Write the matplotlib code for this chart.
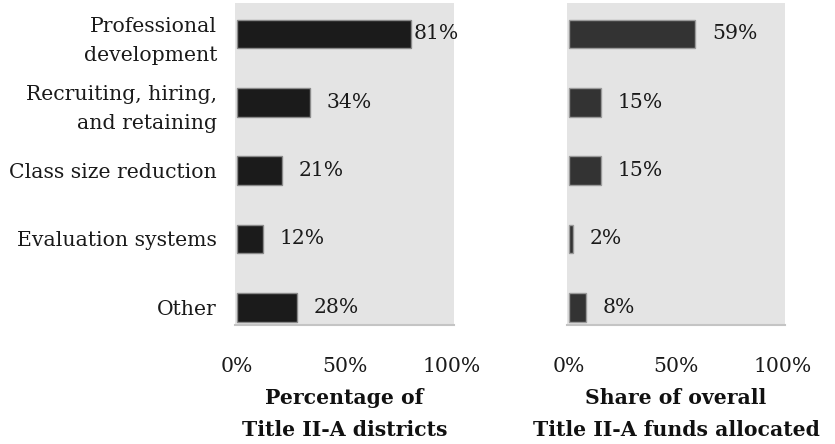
import numpy as np
import matplotlib
matplotlib.use("Agg")
import matplotlib.pyplot as plt

plt.rcParams['font.family'] = ['DejaVu Serif']

# uses of Title II-A funds
categories = ['Professional\ndevelopment', 'Recruiting, hiring,\nand retaining',
              'Class size reduction', 'Evaluation systems', 'Other']
pct_districts = [81, 34, 21, 12, 28]
pct_funds = [59, 15, 15, 2, 8]
ticks = [0, 50, 100]
tick_labels = ['0%', '50%', '100%']
titles = ['Percentage of\nTitle II-A districts',
          'Share of overall\nTitle II-A funds allocated']

fig = plt.figure(figsize=(8.35, 4.44), dpi=100)
ax1 = fig.add_axes([0.2814, 0.268, 0.2623, 0.725])
ax2 = fig.add_axes([0.6790, 0.268, 0.2611, 0.725])

fs = 14.7
y = np.arange(len(categories))

panels = [(ax1, pct_districts, '#1b1b1b', '#8a8a8a'),
          (ax2, pct_funds, '#333333', '#9a9a9a')]

for i, (ax, vals, fc, ec) in enumerate(panels):
    ax.set_facecolor('#e4e4e4')
    ax.barh(y, vals, height=0.42, color=fc, edgecolor=ec, linewidth=1.0)
    for yi, v in zip(y, vals):
        off = 2 if v > 70 else 12
        ax.annotate(f'{v}%', (v, yi), xytext=(off, 0), textcoords='offset points',
                    va='center', ha='left', fontsize=fs, color='#1a1a1a')
    ax.set_xlim(-0.9, 100.9)
    ax.set_ylim(4.26, -0.45)
    ax.set_xticks(ticks)
    ax.set_xticklabels(tick_labels, fontsize=fs, color='#1a1a1a')
    ax.tick_params(axis='x', length=0, pad=23)
    for s in ['top', 'left', 'right']:
        ax.spines[s].set_visible(False)
    ax.spines['bottom'].set_color('#c4c4c4')
    ax.spines['bottom'].set_linewidth(1.5)
    ax.set_xlabel(titles[i], fontsize=fs, fontweight='bold', color='#111111',
                  labelpad=9, linespacing=1.7)
    if i == 0:
        ax.set_yticks(y)
        ax.set_yticklabels(categories, fontsize=fs, color='#1a1a1a', linespacing=1.65)
        ax.tick_params(axis='y', length=0, pad=13)
    else:
        ax.set_yticks([])

fig.savefig('out.png', dpi=100)
